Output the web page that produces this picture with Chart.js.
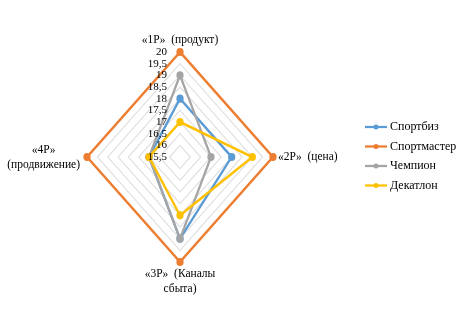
<!DOCTYPE html>
<html><head><meta charset="utf-8">
<script src="https://cdn.jsdelivr.net/npm/chart.js@4.4.0/dist/chart.umd.min.js"></script>
<style>html,body{margin:0;padding:0;background:#fff;} canvas{display:block;}</style>
</head><body>
<canvas id="c" width="464" height="314"></canvas>
<script>
const categories = [["«1P»  (продукт)"], ["«2P»  (цена)"], ["«3P»  (Каналы", "сбыта)"], ["«4P»", "(продвижение)"]];
const seriesNames = ["Спортбиз", "Спортмастер", "Чемпион", "Декатлон"];
const sportbiz = [18, 18, 19, 17];
const sportmaster = [20, 20, 20, 20];
const champion = [19, 17, 19, 17];
const decathlon = [17, 19, 18, 17];
const tickValues = [15.5, 16, 16.5, 17, 17.5, 18, 18.5, 19, 19.5, 20];
const tickLabels = ["15,5", "16", "16,5", "17", "17,5", "18", "18,5", "19", "19,5", "20"];

const colors = ['#5B9BD5', '#ED7D31', '#A5A5A5', '#FFC000'];
const K = 105 / 93;
const FONT = '"Liberation Serif", "Times New Roman", serif';

const stretch = {
  id: 'stretch',
  beforeDraw(chart) {
    const s = chart.scales.r, ctx = chart.ctx;
    ctx.save();
    ctx.translate(s.xCenter, s.yCenter);
    ctx.scale(1, K);
    ctx.translate(-s.xCenter, -s.yCenter);
  },
  afterDraw(chart) {
    const ctx = chart.ctx;
    ctx.restore();
    const s = chart.scales.r;
    const P = (i, v) => { const p = s.getPointPositionForValue(i, v); return {x: p.x, y: s.yCenter + (p.y - s.yCenter) * K}; };
    ctx.save();
    ctx.fillStyle = '#000';
    ctx.textBaseline = 'middle';
    // tick labels
    ctx.font = '11px ' + FONT;
    ctx.textAlign = 'right';
    tickValues.forEach((v, j) => { const p = P(0, v); ctx.fillText(tickLabels[j], p.x - 13, p.y); });
    // point labels
    ctx.font = '11.5px ' + FONT;
    const top = P(0, 20), right = P(1, 20), bottom = P(2, 20), left = P(3, 20);
    ctx.textAlign = 'center';
    ctx.fillText(categories[0][0], top.x, top.y - 12);
    ctx.textAlign = 'left';
    ctx.fillText(categories[1][0], right.x + 5, right.y);
    ctx.textAlign = 'center';
    categories[2].forEach((t, k) => ctx.fillText(t, bottom.x, bottom.y + 12 + k * 14.5));
    const w = Math.max(...categories[3].map(t => ctx.measureText(t).width));
    const cx = left.x - 7 - w / 2;
    categories[3].forEach((t, k) => ctx.fillText(t, cx, left.y - 7 + k * 14.5));
    // legend
    ctx.font = '12px ' + FONT;
    ctx.textAlign = 'left';
    chart.data.datasets.forEach((d, k) => {
      const y = 127 + k * 19.5;
      ctx.strokeStyle = d.borderColor; ctx.lineWidth = 2.25;
      ctx.beginPath(); ctx.moveTo(365, y); ctx.lineTo(387, y); ctx.stroke();
      ctx.fillStyle = d.borderColor;
      ctx.beginPath(); ctx.arc(376, y, 2.5, 0, Math.PI * 2); ctx.fill();
      ctx.fillStyle = '#000';
      ctx.fillText(d.label, 390, y);
    });
    ctx.restore();
  }
};

const seriesData = [sportbiz, sportmaster, champion, decathlon];
new Chart(document.getElementById('c'), {
  type: 'radar',
  data: {
    labels: categories,
    datasets: seriesData.map((arr, i) => ({
      label: seriesNames[i],
      data: arr,
      borderColor: colors[i],
      backgroundColor: colors[i],
      pointBackgroundColor: colors[i],
      pointBorderColor: colors[i],
      borderWidth: 2.25,
      pointRadius: 2.5,
      fill: false,
      order: 4 - i
    }))
  },
  options: {
    responsive: false,
    animation: false,
    layout: {padding: {left: 87, right: 191, top: 64, bottom: 64}},
    plugins: {legend: {display: false}, tooltip: {enabled: false}},
    elements: {line: {tension: 0}},
    scales: {
      r: {
        min: 15.5, max: 20,
        ticks: {display: false, stepSize: 0.5},
        pointLabels: {display: false},
        angleLines: {display: false},
        grid: {color: '#DEDEDE', lineWidth: 1}
      }
    }
  },
  plugins: [stretch]
});
</script>
</body></html>
